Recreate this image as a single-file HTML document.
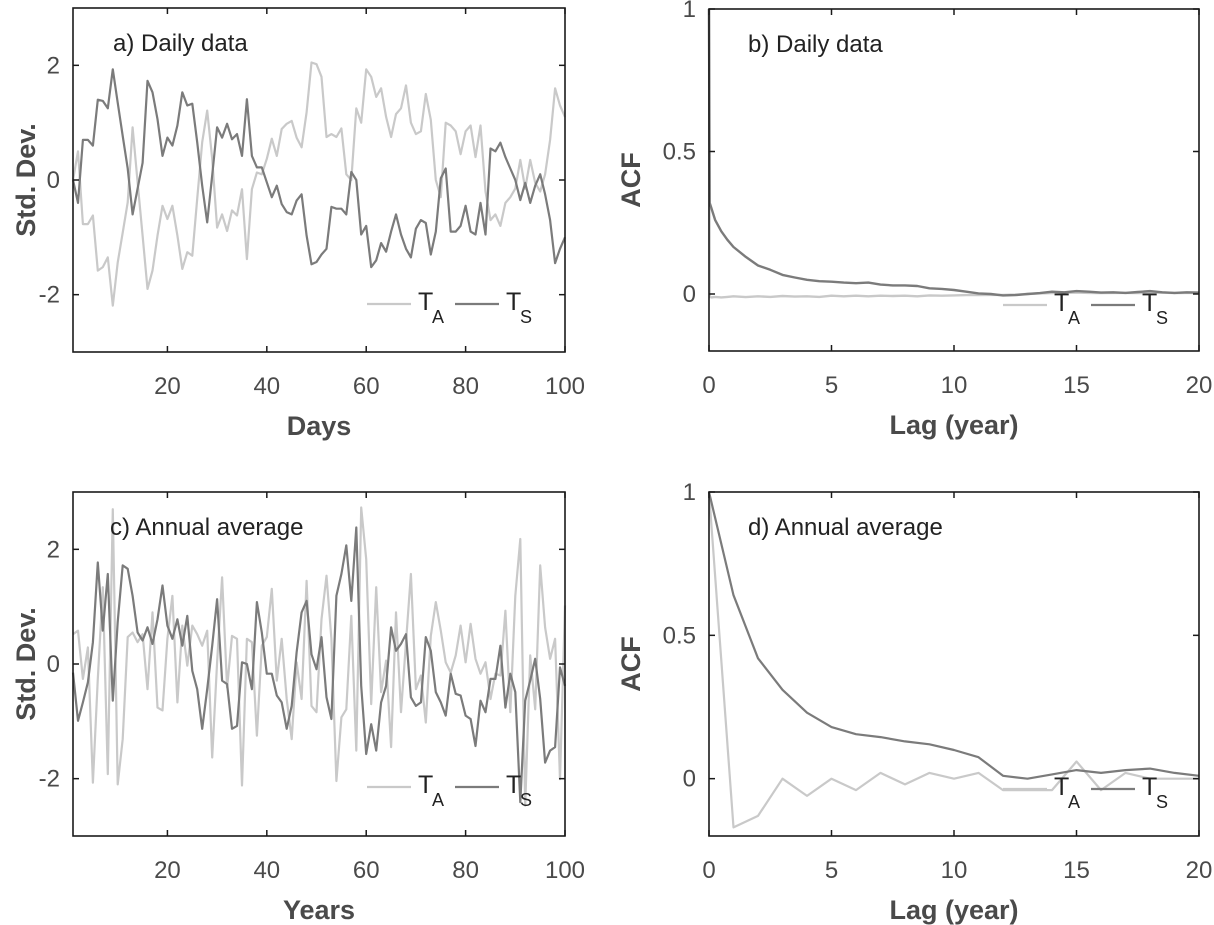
<!DOCTYPE html>
<html><head><meta charset="utf-8"><style>
html,body{margin:0;padding:0;background:#fff;}
svg{display:block;font-family:"Liberation Sans",Arial,sans-serif;}
</style></head><body>
<svg id="fig" width="1214" height="925" viewBox="0 0 1214 925"></svg>
<script>
// ---- data ----
const dailyDays = Array.from({length:100},(_,i)=>i+1);
const dailyTA = [0,0.5,-0.77,-0.77,-0.62,-1.58,-1.52,-1.35,-2.19,-1.44,-0.92,-0.39,0.92,-0.04,-0.97,-1.9,-1.58,-0.97,-0.45,-0.68,-0.45,-0.97,-1.55,-1.26,-1.32,-0.33,0.66,1.21,0.37,-0.83,-0.6,-0.89,-0.53,-0.62,-0.16,-1.38,-0.16,0.13,0.1,0.37,0.72,0.42,0.89,0.98,1.03,0.74,0.57,1.18,2.05,2.02,1.8,0.75,0.8,0.75,0.9,0.1,0.0,1.25,1.0,1.93,1.8,1.45,1.6,1.1,0.75,1.15,1.25,1.65,1.0,0.8,0.85,1.5,1.05,0.0,-0.3,1.0,0.95,0.85,0.45,0.85,0.95,0.4,0.95,-0.2,-0.7,-0.6,-0.8,-0.4,-0.3,-0.15,0.35,-0.15,0.35,-0.05,-0.2,0.1,0.7,1.6,1.3,1.1];
const dailyTS = [0,-0.4,0.7,0.7,0.6,1.4,1.38,1.25,1.93,1.35,0.77,0.2,-0.6,-0.15,0.3,1.73,1.53,1.06,0.42,0.74,0.6,0.95,1.53,1.3,1.33,0.66,-0.1,-0.74,0.08,0.92,0.74,0.98,0.71,0.8,0.42,1.41,0.42,0.22,0.22,-0.04,-0.3,-0.1,-0.42,-0.56,-0.6,-0.36,-0.25,-0.97,-1.47,-1.43,-1.3,-1.2,-0.47,-0.5,-0.5,-0.6,0.14,0.0,-0.95,-0.8,-1.52,-1.4,-1.1,-1.25,-0.9,-0.6,-0.95,-1.2,-1.35,-0.85,-0.7,-0.75,-1.3,-0.9,0.03,0.2,-0.9,-0.9,-0.8,-0.45,-0.9,-0.95,-0.4,-0.95,0.55,0.5,0.65,0.4,0.2,0.0,-0.35,-0.05,-0.4,-0.1,0.1,-0.25,-0.7,-1.45,-1.2,-1.0];
const annualTA = [0.52,0.58,-0.26,0.29,-2.07,-0.26,1.34,-1.92,2.7,-2.1,-1.31,0.47,0.55,0.38,0.52,-0.44,0.9,-0.76,-0.81,0.44,1.19,-0.67,0.67,-0.03,0.67,0.52,0.32,0.58,-1.63,0.03,1.51,-0.41,0.49,0.44,-2.12,0.44,0.38,-1.25,0.32,0.47,1.31,-0.29,0.44,-0.61,-1.31,0.03,-0.61,1.45,-0.73,-0.84,0.78,1.54,0.44,-2.04,-0.93,-0.79,0.84,-1.51,2.73,1.83,-0.7,1.34,-0.49,0.06,-1.45,0.9,-0.84,0.38,1.57,-0.44,-0.2,-1.02,0.49,1.08,0.58,0.03,-0.15,0.15,0.67,0.03,0.7,0.09,-0.17,0.03,-0.61,-0.17,-0.2,0.93,-0.84,1.19,2.18,-2.47,0.15,-0.79,1.72,0.64,0.09,0.44,-2.01,1.02];
const annualTS = [-0.15,-0.99,-0.67,-0.32,0.38,1.77,0.58,1.57,-0.64,0.73,1.72,1.66,1.19,0.55,0.41,0.64,0.35,0.78,1.37,0.67,0.44,0.78,0.32,0.84,-0.12,-0.44,-1.13,-0.44,0.32,1.13,-0.29,-0.35,-1.13,-1.08,0.03,0,-0.44,1.08,0.55,-0.17,-0.17,-0.55,-0.67,-1.13,-0.73,0.2,0.9,1.1,0.17,-0.09,0.47,-0.58,-0.96,1.19,1.57,2.07,1.1,2.38,-0.38,-1.57,-1.05,-1.51,-0.67,-0.38,0.64,0.23,0.35,0.52,-0.58,-0.73,-0.67,0.47,0.23,-0.49,-0.67,-0.9,-0.17,-0.52,-0.55,-0.9,-0.96,-1.43,-0.64,-0.84,-0.26,-0.26,0.32,-0.76,-0.17,-0.49,-2.41,-0.64,-0.29,0.09,-0.61,-1.72,-1.51,-1.45,-0.06,-0.38];
const dailyLags = [0,0.03,0.1,0.25,0.5,0.75,1,1.5,2,2.5,3,3.5,4,4.5,5,5.5,6,6.5,7,7.5,8,8.5,9,9.5,10,10.5,11,11.5,12,12.5,13,13.5,14,14.5,15,15.5,16,16.5,17,17.5,18,18.5,19,19.5,20];
const dailyAcfTS = [1,0.32,0.3,0.26,0.22,0.19,0.165,0.13,0.1,0.085,0.067,0.058,0.05,0.045,0.043,0.04,0.038,0.04,0.033,0.03,0.03,0.028,0.02,0.018,0.014,0.008,0.002,0.0,-0.005,-0.004,0.0,0.003,0.008,0.006,0.01,0.008,0.005,0.006,0.004,0.007,0.01,0.006,0.004,0.006,0.005];
const dailyAcfTA = [1,-0.01,-0.012,-0.01,-0.012,-0.01,-0.008,-0.011,-0.008,-0.01,-0.007,-0.009,-0.008,-0.01,-0.006,-0.008,-0.006,-0.008,-0.006,-0.007,-0.006,-0.008,-0.005,-0.006,-0.005,-0.004,-0.004,-0.003,-0.003,-0.002,0,0.002,0.003,0.004,0.005,0.004,0.003,0.004,0.004,0.003,0.004,0.005,0.003,0.004,0.004];
const annualLags = [0,1,2,3,4,5,6,7,8,9,10,11,12,13,14,15,16,17,18,19,20];
const annualAcfTS = [1,0.64,0.42,0.31,0.23,0.18,0.155,0.145,0.13,0.12,0.1,0.075,0.01,0.0,0.015,0.03,0.02,0.03,0.035,0.02,0.01];
const annualAcfTA = [1,-0.17,-0.13,0.0,-0.06,0.0,-0.04,0.02,-0.02,0.02,0.0,0.02,-0.04,-0.04,-0.04,0.06,-0.04,0.02,0.0,0.0,0.0];
const stdTicks = [-2,0,2];
const dayTicks = [20,40,60,80,100];
const acfTicks = [0,0.5,1];
const acfTickLabels = ["0","0.5","1"];
const lagTicks = [0,5,10,15,20];

const NS="http://www.w3.org/2000/svg";
const svg=document.getElementById('fig');
const LIGHT="#c9c9c9", DARK="#7b7b7b", TXT="#4a4a4a";
function mk(tag,attrs,parent){const e=document.createElementNS(NS,tag);for(const k in attrs)e.setAttribute(k,attrs[k]);(parent||svg).appendChild(e);return e;}

function panel(o){
  const g=mk('g',{});
  
  
  const sx=v=>o.L+(v-o.x0)/(o.x1-o.x0)*(o.R-o.L);
  const sy=v=>o.B-(v-o.y0)/(o.y1-o.y0)*(o.B-o.T);
  o.series.forEach(s=>{
    const pts=s.x.map((xv,i)=>sx(xv).toFixed(1)+','+sy(s.y[i]).toFixed(1)).join(' ');
    const p=mk('polyline',{points:pts,fill:'none',stroke:s.color,'stroke-width':s.w||2.2,'stroke-linejoin':'round'},g);
    
    
  });
  const box=mk('rect',{x:o.L,y:o.T,width:o.R-o.L,height:o.B-o.T,fill:'none',stroke:'#1a1a1a','stroke-width':1.6},g);
  
  
  o.yt.forEach((v,i)=>{
    const y=sy(v);
    mk('line',{x1:o.L,x2:o.L+6,y1:y,y2:y,stroke:'#1a1a1a','stroke-width':1.5},g);
    mk('line',{x1:o.R,x2:o.R-6,y1:y,y2:y,stroke:'#1a1a1a','stroke-width':1.5},g);
    const t=mk('text',{x:o.L-13,y:y+8,'text-anchor':'end','font-size':24,fill:TXT},g);
    t.textContent=o.ytl?o.ytl[i]:String(v);
    
    
  });
  o.xt.forEach(v=>{
    const x=sx(v);
    mk('line',{x1:x,x2:x,y1:o.B,y2:o.B-6,stroke:'#1a1a1a','stroke-width':1.5},g);
    mk('line',{x1:x,x2:x,y1:o.T,y2:o.T+6,stroke:'#1a1a1a','stroke-width':1.5},g);
    const t=mk('text',{x:x,y:o.B+42,'text-anchor':'middle','font-size':24,fill:TXT},g);
    t.textContent=String(v);
    
    
  });
  const ti=mk('text',{x:o.L+o.titleDx,y:o.T+43,'font-size':24,fill:'#222'},g);
  ti.textContent=o.title;
  
  
  const xl=mk('text',{x:(o.L+o.R)/2,y:o.B+83,'text-anchor':'middle','font-size':27,'font-weight':'bold',fill:TXT},g);
  xl.textContent=o.xlabel;
  
  
  const yx=o.L-o.ylOff, yy=(o.T+o.B)/2;
  const yl=mk('text',{x:yx,y:yy,'text-anchor':'middle','font-size':27,'font-weight':'bold',fill:TXT,transform:`rotate(-90 ${yx} ${yy})`},g);
  yl.textContent=o.ylabel;
  
  
  const lg=mk('g',{},g);
  
  
  const lx=o.legX, ly=o.legY;
  [[LIGHT,'A',0],[DARK,'S',88]].forEach(([c,sub,dx])=>{
    mk('line',{x1:lx+dx,x2:lx+dx+44,y1:ly,y2:ly,stroke:c,'stroke-width':2.2},lg);
    const t=mk('text',{x:lx+dx+51,y:ly+6,'font-size':25,fill:'#222'},lg);
    t.textContent='T';
    const s=mk('text',{x:lx+dx+65,y:ly+19,'font-size':18,fill:'#222'},lg);
    s.textContent=sub;
    
    
  });
}

panel({name:'panel-a-daily-series',L:73,R:565,T:8,B:352,x0:1,x1:100,y0:-3,y1:3,yt:stdTicks,xt:dayTicks,
  title:'a) Daily data',titleDx:40,xlabel:'Days',ylabel:'Std. Dev.',ylOff:38,legX:367,legY:304,
  series:[{x:dailyDays,y:dailyTA,color:LIGHT,name:'series-ta'},{x:dailyDays,y:dailyTS,color:DARK,name:'series-ts'}]});
panel({name:'panel-b-daily-acf',L:709,R:1199,T:9,B:351,x0:0,x1:20,y0:-0.2,y1:1,yt:acfTicks,ytl:acfTickLabels,xt:lagTicks,
  title:'b) Daily data',titleDx:39,xlabel:'Lag (year)',ylabel:'ACF',ylOff:69,legX:1003,legY:305,
  series:[{x:dailyLags,y:dailyAcfTA,color:LIGHT,name:'acf-ta',w:2.4},{x:dailyLags,y:dailyAcfTS,color:DARK,name:'acf-ts',w:2.4}]});
panel({name:'panel-c-annual-series',L:73,R:565,T:492,B:836,x0:1,x1:100,y0:-3,y1:3,yt:stdTicks,xt:dayTicks,
  title:'c) Annual average',titleDx:37,xlabel:'Years',ylabel:'Std. Dev.',ylOff:38,legX:367,legY:787,
  series:[{x:dailyDays,y:annualTA,color:LIGHT,name:'series-ta'},{x:dailyDays,y:annualTS,color:DARK,name:'series-ts'}]});
panel({name:'panel-d-annual-acf',L:709,R:1199,T:492,B:836,x0:0,x1:20,y0:-0.2,y1:1,yt:acfTicks,ytl:acfTickLabels,xt:lagTicks,
  title:'d) Annual average',titleDx:39,xlabel:'Lag (year)',ylabel:'ACF',ylOff:69,legX:1003,legY:789,
  series:[{x:annualLags,y:annualAcfTA,color:LIGHT,name:'acf-ta'},{x:annualLags,y:annualAcfTS,color:DARK,name:'acf-ts'}]});
</script>
</body></html>
